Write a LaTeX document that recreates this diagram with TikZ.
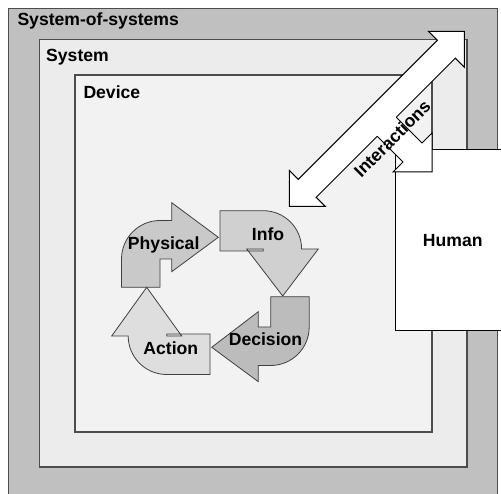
\documentclass[tikz,border=0pt]{standalone}
\usepackage{fontspec}
\setmainfont{Liberation Sans}
\usepackage{tikz}
\usetikzlibrary{positioning}

\definecolor{sosgray}{HTML}{C0C0C0}
\definecolor{sysgray}{HTML}{ECECEC}
\definecolor{devgray}{HTML}{F2F2F2}
\definecolor{physgray}{HTML}{C9C9C9}
\definecolor{infogray}{HTML}{D0D0D0}
\definecolor{decgray}{HTML}{BCBCBC}
\definecolor{actgray}{HTML}{DEDEDE}

\begin{document}
\begin{tikzpicture}[x=1pt,y=1pt,
  box/.style={draw=black!70,line width=1.5pt},
  lbl/.style={font=\fontsize{17.6}{20}\selectfont\bfseries,inner sep=0pt},
  cyc/.style={draw=black!75,line width=0.8pt},
  blockarrow/.style={draw=black,line width=1pt}]
\useasboundingbox (0,0) rectangle (501,494);
\clip (0,0) rectangle (501,494);
\draw[box,fill=sosgray] (8.5,-30) rectangle (497.5,485.5);
\draw[box,fill=sysgray] (39.5,27) rectangle (467,454.5);
\draw[box,fill=devgray] (75,62) rectangle (432,419);
\node[lbl,anchor=base west] (sos) at (17.3,468) {System-of-systems};
\node[lbl,anchor=base west] (system) at (46,432) {System};
\node[lbl,anchor=base west] (device) at (83.3,395.3) {Device};

\draw[cyc,fill=physgray] (121.5,206.7) -- (121.5,235) arc[start angle=180,end angle=90,radius=38.5]
  -- (171.7,273.5) -- (171.7,291.3) -- (218.3,256.7) -- (171.7,222.3) -- (171.7,235)
  -- (160,235) -- (160,206.7) -- cycle;
\draw[cyc,fill=infogray] (220,283.3) -- (263.3,283.3) arc[start angle=90,end angle=0,radius=38.3]
  -- (318.3,245) -- (282.7,198) -- (246.7,245) -- (263.3,245) -- (263.3,243)
  -- (220,243) -- cycle;
\draw[cyc,fill=decgray] (270.7,197.3) -- (309.2,197.3) -- (309.2,167) arc[start angle=0,end angle=-90,radius=38.5]
  -- (258.3,128.5) -- (258.3,112.3) -- (211.7,146.7) -- (258.3,182.3) -- (258.3,167)
  -- (270.7,167) -- cycle;
\draw[cyc,fill=actgray] (210,160) -- (166.7,160) -- (166.7,158) -- (181.7,158) -- (146.7,206.7)
  -- (111.7,158) -- (128.2,158) arc[start angle=180,end angle=270,radius=38.5]
  -- (210,119.5) -- cycle;
\node[lbl,anchor=base] (physical) at (163.7,244.2) {Physical};
\node[lbl,anchor=base] (info) at (268,253) {Info};
\node[lbl,anchor=base] (decision) at (265.5,148) {Decision};
\node[lbl,anchor=base] (action) at (170.8,139) {Action};

\draw[line width=1pt,fill=white] (395,163) rectangle (520,344);
\node[lbl,anchor=base west] (human) at (422.7,247.3) {Human};

\draw[blockarrow,fill=white] (289.3,287.7) -- (325.2,287.7) -- (316.2,296.7) -- (455.3,435.8)
  -- (464.3,426.8) -- (464.3,462.7) -- (428.4,462.7) -- (437.4,453.7) -- (298.3,314.6)
  -- (289.3,323.6) -- cycle;
\fill[white] (372.25,362.75) -- (403,332) -- (393,322) -- (432,322) -- (432,361)
  -- (422,351) -- (391.25,381.75) -- cycle;
\draw[blockarrow] (377.25,357.75) -- (403,332) -- (393,322) -- (432,322) -- (432,361)
  -- (422,351) -- (396.25,376.75);
\node[lbl,rotate=45] (interactions) at (392.1,355.3) {Interactions};
\end{tikzpicture}
\end{document}
